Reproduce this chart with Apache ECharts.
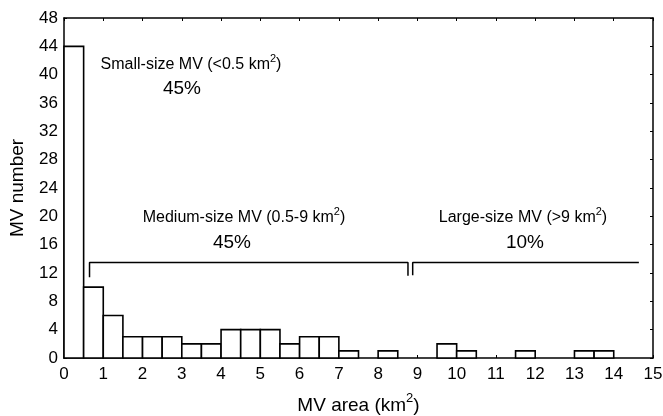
<!DOCTYPE html>
<html lang="en">
<head>
  <meta charset="UTF-8">
  <title>MV area histogram</title>
  <style>
    * { margin: 0; padding: 0; }
    body { background: #ffffff; }
    #chart { width: 663px; height: 416px; }
  </style>
</head>
<body>
  <div id="chart"></div>
  <script src="https://cdn.jsdelivr.net/npm/echarts@6/dist/echarts.min.js"></script>
  <script type="text/javascript">
  // bin edges (km2), width 0.5
  var binStart = [0, 0.5, 1, 1.5, 2, 2.5, 3, 3.5, 4, 4.5, 5, 5.5, 6, 6.5, 7, 7.5, 8, 8.5, 9, 9.5, 10, 10.5, 11, 11.5, 12, 12.5, 13, 13.5, 14, 14.5];
  var counts   = [44, 10, 6, 3, 3, 3, 2, 2, 4, 4, 4, 2, 3, 3, 1, 0, 1, 0, 0, 2, 1, 0, 0, 1, 0, 0, 1, 1, 0, 0];
  var binWidth = 0.5;

  // bracket annotations in data units
  var mediumBracket = [[0.65, 11.4], [0.65, 13.5], [8.76, 13.5], [8.76, 11.6]];
  var largeBracket  = [[8.88, 11.7], [8.88, 13.5], [14.64, 13.5]];

  var xTicks = [0, 15, 1];
  var yTicks = [0, 48, 4];

  function main () {
    var chart = echarts.init(document.getElementById('chart'));
    var font = 'Liberation Sans, Arial, sans-serif';

    var histData = [];
    binStart.forEach(function (s, i) {
      if (counts[i] > 0) histData.push([s, s + binWidth, counts[i]]);
    });

    function richFor (size) {
      var supSize = Math.round(size * 0.7);
      return {
        n: { fontSize: size, fontFamily: font, color: '#000', verticalAlign: 'bottom' },
        sup: { fontSize: supSize, fontFamily: font, color: '#000', verticalAlign: 'top',
               padding: [0, 0, Math.round(size * 0.52), 0] }
      };
    }

    function txt (x, y, text, size) {
      return {
        type: 'text', x: x, y: y,
        style: {
          text: text, fill: '#000', fontSize: size, fontFamily: font,
          align: 'center', verticalAlign: 'middle',
          rich: richFor(size)
        }
      };
    }

    var tick = { show: true, inside: true, length: 3, lineStyle: { color: '#000' } };
    var line = { show: true, onZero: false, lineStyle: { color: '#000', width: 1.5 } };

    var option = {
      animation: false,
      grid: { left: 64, right: 10, top: 18, bottom: 58, containLabel: false, outerBoundsMode: 'none' },
      xAxis: [{
        type: 'value', min: xTicks[0], max: xTicks[1], interval: xTicks[2],
        axisLine: line,
        axisTick: tick,
        splitLine: { show: false },
        axisLabel: { color: '#000', fontSize: 17, fontFamily: font, margin: 8 },
        name: '{n|MV area (km}{sup|2}{n|)}',
        nameLocation: 'middle', nameGap: 34,
        nameTextStyle: { rich: richFor(19) }
      }, {
        type: 'value', position: 'top', min: xTicks[0], max: xTicks[1], interval: xTicks[2],
        axisLine: line,
        axisTick: tick,
        axisLabel: { show: false }, splitLine: { show: false }
      }],
      yAxis: [{
        type: 'value', min: yTicks[0], max: yTicks[1], interval: yTicks[2],
        axisLine: line,
        axisTick: tick,
        splitLine: { show: false },
        axisLabel: { color: '#000', fontSize: 17, fontFamily: font, margin: 6 },
        name: 'MV number', nameLocation: 'middle', nameGap: 37,
        nameTextStyle: { color: '#000', fontSize: 19, fontFamily: font }
      }, {
        type: 'value', position: 'right', min: yTicks[0], max: yTicks[1], interval: yTicks[2],
        axisLine: line,
        axisTick: tick,
        axisLabel: { show: false }, splitLine: { show: false }
      }],
      series: [{
        type: 'custom',
        data: histData,
        renderItem: function (params, api) {
          var p0 = api.coord([api.value(0), api.value(2)]);
          var p1 = api.coord([api.value(1), 0]);
          return {
            type: 'rect',
            shape: { x: p0[0], y: p0[1], width: p1[0] - p0[0], height: p1[1] - p0[1] },
            style: { fill: '#fff', stroke: '#000', lineWidth: 1.6 }
          };
        },
        encode: { x: [0, 1], y: 2 }
      }, {
        type: 'line', data: mediumBracket, symbol: 'none',
        lineStyle: { color: '#000', width: 1.5 }
      }, {
        type: 'line', data: largeBracket, symbol: 'none',
        lineStyle: { color: '#000', width: 1.5 }
      }],
      graphic: [
        txt(191, 63, '{n|Small-size MV (<0.5 km}{sup|2}{n|)}', 16),
        txt(182, 89, '45%', 19),
        txt(244, 216, '{n|Medium-size MV (0.5-9 km}{sup|2}{n|)}', 16),
        txt(232, 243, '45%', 19),
        txt(523, 216, '{n|Large-size MV (>9 km}{sup|2}{n|)}', 16),
        txt(525, 243, '10%', 19)
      ]
    };
    chart.setOption(option);
  }

  window.addEventListener('load', main);
  </script>
</body>
</html>
